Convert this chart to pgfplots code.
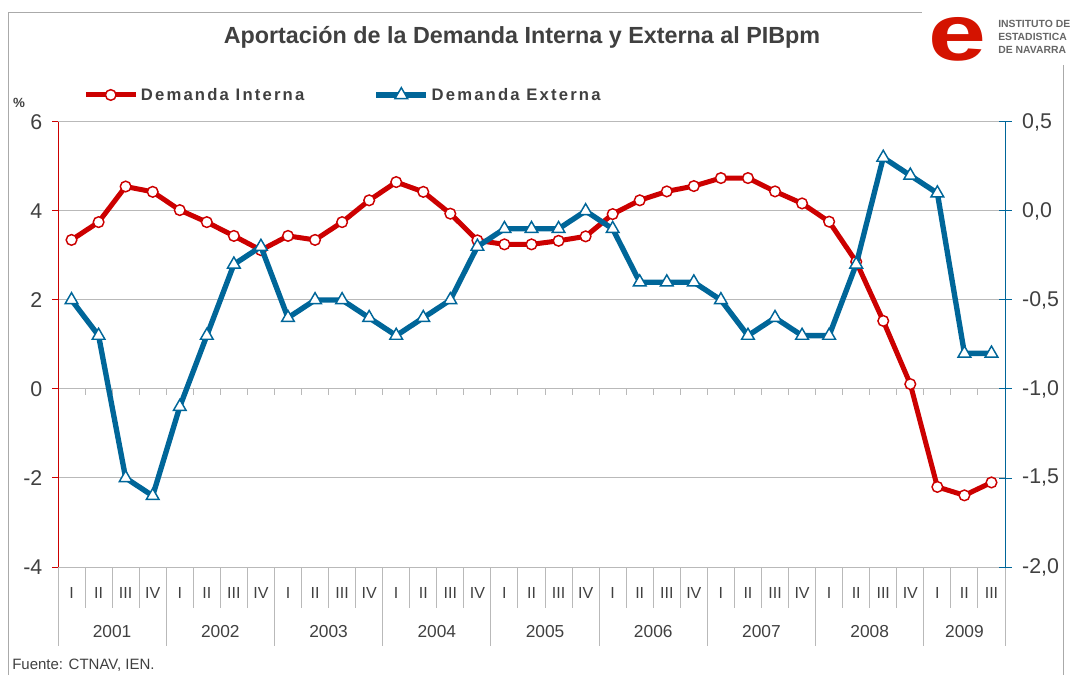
\documentclass[border=0pt]{standalone}
\usepackage{pgfplots}
\pgfplotsset{compat=1.18}
\usepackage{fontspec}
\setmainfont{Liberation Sans}
\newfontfamily\legfont[LetterSpace=13]{Liberation Sans}

\definecolor{inrojo}{RGB}{204,0,0}
\definecolor{inazul}{RGB}{0,102,153}
\definecolor{rejilla}{RGB}{185,185,185}
\definecolor{marco}{RGB}{170,170,170}
\definecolor{texto}{RGB}{64,64,64}

\pgfplotsset{
  intstyle/.style={color=inrojo, line width=3.75pt, mark=*, mark size=4pt,
    mark options={fill=white, draw=inrojo, line width=1.1pt}},
  extstyle/.style={color=inazul, line width=4pt, mark=triangle*, mark size=5.5pt,
    mark options={fill=white, draw=inazul, line width=1.1pt}},
}

\begin{document}
\begin{tikzpicture}
\useasboundingbox (0,0) rectangle (807.75pt,506.25pt);

% marco, titulo, logo, fuente (coordenadas en pixeles de la imagen)
\begin{scope}[x=0.75pt,y=-0.75pt,shift={(0,506.25pt)}]
  \draw[marco, line width=0.75pt] (8,675) -- (8,13) -- (922,13);
  \draw[marco, line width=0.75pt] (1063,65) -- (1063,675);
  \node[text=texto, font=\fontsize{17.5pt}{17.5pt}\selectfont\bfseries] at (522,37)
    {Aportación de la Demanda Interna y Externa al PIBpm};
  \node[text=inrojo!85!orange, font=\fontsize{60pt}{60pt}\selectfont\bfseries,
    xscale=1.3, inner sep=0pt, anchor=base] at (957,61) {e};
  \node[text=black!60, font=\fontsize{7.8pt}{9pt}\selectfont\bfseries,
    anchor=west, align=left, inner sep=0pt] at (998,37)
    {INSTITUTO DE\\[0.9pt]ESTADISTICA\\[0.9pt]DE NAVARRA};
  \node[text=texto, font=\fontsize{11.25pt}{12pt}\selectfont, anchor=west, inner sep=0pt]
    at (12,665) {Fuente: CTNAV, IEN.};
  \node[text=texto, font=\fontsize{10pt}{10pt}\selectfont\bfseries, inner sep=0pt]
    at (19,103) {\%};
\end{scope}

\begin{axis}[
  at={(43.5pt,81pt)}, anchor=south west,
  width=710.25pt, height=333.75pt, scale only axis,
  xmin=0.5, xmax=35.5, ymin=-4, ymax=6,
  axis x line=none,
  axis line style={draw=none},
  ytick={-4,-2,0,2,4,6},
  yticklabels={-4,-2,0,2,4,6},
  ytick pos=left, tick align=outside, major tick length=4.5pt,
  y tick style={inrojo, line width=0.75pt},
  yticklabel style={font=\fontsize{16pt}{16pt}\selectfont, text=texto, xshift=-3.75pt},
  ymajorgrids, grid style={rejilla, line width=0.75pt},
  clip=false,
  legend image code/.code={\draw[mark repeat=2,mark phase=2,#1]
    plot coordinates {(0pt,0pt) (18.75pt,0pt) (37.5pt,0pt)};},
  legend style={at={(axis description cs:0.0264,1.0607)}, anchor=west,
    draw=none, fill=none, inner sep=0pt,
    font=\legfont\fontsize{12.5pt}{12.5pt}\selectfont\bfseries,
    text=texto,
    /tikz/every even column/.append style={column sep=50pt}},
  legend columns=2,
]
% eje de categorias en y=0 con marcas entre trimestres
\pgfplotsinvokeforeach{1,...,34}{
  \draw[rejilla, line width=0.75pt] (axis cs:#1+0.5,0) -- ([yshift=-4.5pt]axis cs:#1+0.5,0);
}
% separadores bajo el grafico
\pgfplotsinvokeforeach{1,2,3,5,6,7,9,10,11,13,14,15,17,18,19,21,22,23,25,26,27,29,30,31,33,34}{
  \draw[rejilla, line width=0.75pt] (axis cs:#1+0.5,-4) -- ([yshift=-30.75pt]axis cs:#1+0.5,-4);
}
\pgfplotsinvokeforeach{0,4,8,12,16,20,24,28,32,35}{
  \draw[rejilla, line width=0.75pt] (axis cs:#1+0.5,-4) -- ([yshift=-59.25pt]axis cs:#1+0.5,-4);
}
% etiquetas de trimestre y de año
\pgfplotsinvokeforeach{0,...,7}{
  \node[text=texto, font=\fontsize{12pt}{12pt}\selectfont] at ([yshift=-19.5pt]axis cs:4*#1+1,-4) {I};
  \node[text=texto, font=\fontsize{12pt}{12pt}\selectfont] at ([yshift=-19.5pt]axis cs:4*#1+2,-4) {II};
  \node[text=texto, font=\fontsize{12pt}{12pt}\selectfont] at ([yshift=-19.5pt]axis cs:4*#1+3,-4) {III};
  \node[text=texto, font=\fontsize{12pt}{12pt}\selectfont] at ([yshift=-19.5pt]axis cs:4*#1+4,-4) {IV};
}
\node[text=texto, font=\fontsize{12pt}{12pt}\selectfont] at ([yshift=-19.5pt]axis cs:33,-4) {I};
\node[text=texto, font=\fontsize{12pt}{12pt}\selectfont] at ([yshift=-19.5pt]axis cs:34,-4) {II};
\node[text=texto, font=\fontsize{12pt}{12pt}\selectfont] at ([yshift=-19.5pt]axis cs:35,-4) {III};
\node[text=texto, font=\fontsize{13pt}{13pt}\selectfont] at ([yshift=-48.75pt]axis cs:2.5,-4) {2001};
\node[text=texto, font=\fontsize{13pt}{13pt}\selectfont] at ([yshift=-48.75pt]axis cs:6.5,-4) {2002};
\node[text=texto, font=\fontsize{13pt}{13pt}\selectfont] at ([yshift=-48.75pt]axis cs:10.5,-4) {2003};
\node[text=texto, font=\fontsize{13pt}{13pt}\selectfont] at ([yshift=-48.75pt]axis cs:14.5,-4) {2004};
\node[text=texto, font=\fontsize{13pt}{13pt}\selectfont] at ([yshift=-48.75pt]axis cs:18.5,-4) {2005};
\node[text=texto, font=\fontsize{13pt}{13pt}\selectfont] at ([yshift=-48.75pt]axis cs:22.5,-4) {2006};
\node[text=texto, font=\fontsize{13pt}{13pt}\selectfont] at ([yshift=-48.75pt]axis cs:26.5,-4) {2007};
\node[text=texto, font=\fontsize{13pt}{13pt}\selectfont] at ([yshift=-48.75pt]axis cs:30.5,-4) {2008};
\node[text=texto, font=\fontsize{13pt}{13pt}\selectfont] at ([yshift=-48.75pt]axis cs:34,-4) {2009};
% eje izquierdo
\draw[inrojo, line width=0.75pt] (axis cs:0.5,-4) -- (axis cs:0.5,6);

\addplot[intstyle] coordinates {
  (1,3.35) (2,3.75) (3,4.55) (4,4.43) (5,4.02) (6,3.75) (7,3.44) (8,3.12)
  (9,3.44) (10,3.35) (11,3.75) (12,4.24) (13,4.65) (14,4.43) (15,3.94) (16,3.34)
  (17,3.25) (18,3.25) (19,3.33) (20,3.43) (21,3.93) (22,4.24) (23,4.44) (24,4.56)
  (25,4.74) (26,4.74) (27,4.44) (28,4.17) (29,3.76) (30,2.86) (31,1.53) (32,0.11)
  (33,-2.20) (34,-2.39) (35,-2.10)
};
\addlegendentry{Demanda Interna}
\addlegendimage{extstyle}
\addlegendentry{Demanda Externa}
\end{axis}

\begin{axis}[
  at={(43.5pt,81pt)}, anchor=south west,
  width=710.25pt, height=333.75pt, scale only axis,
  xmin=0.5, xmax=35.5, ymin=-2, ymax=0.5,
  axis x line=none,
  axis line style={draw=none},
  ytick={-2,-1.5,-1,-0.5,0,0.5},
  yticklabels={{-2,0},{-1,5},{-1,0},{-0,5},{0,0},{0,5}},
  ytick pos=right, tick align=center, major tick length=9.75pt,
  y tick style={inazul, line width=0.75pt},
  yticklabel style={font=\fontsize{16pt}{16pt}\selectfont, text=texto, xshift=4.5pt},
  clip=false,
]
\draw[inazul, line width=0.75pt] (axis cs:35.5,-2) -- (axis cs:35.5,0.5);
\addplot[extstyle] coordinates {
  (1,-0.5) (2,-0.7) (3,-1.5) (4,-1.6) (5,-1.1) (6,-0.7) (7,-0.3) (8,-0.2)
  (9,-0.6) (10,-0.5) (11,-0.5) (12,-0.6) (13,-0.7) (14,-0.6) (15,-0.5) (16,-0.2)
  (17,-0.1) (18,-0.1) (19,-0.1) (20,0.0) (21,-0.1) (22,-0.4) (23,-0.4) (24,-0.4)
  (25,-0.5) (26,-0.7) (27,-0.6) (28,-0.7) (29,-0.7) (30,-0.3) (31,0.3) (32,0.2)
  (33,0.1) (34,-0.8) (35,-0.8)
};
\end{axis}
\end{tikzpicture}
\end{document}
